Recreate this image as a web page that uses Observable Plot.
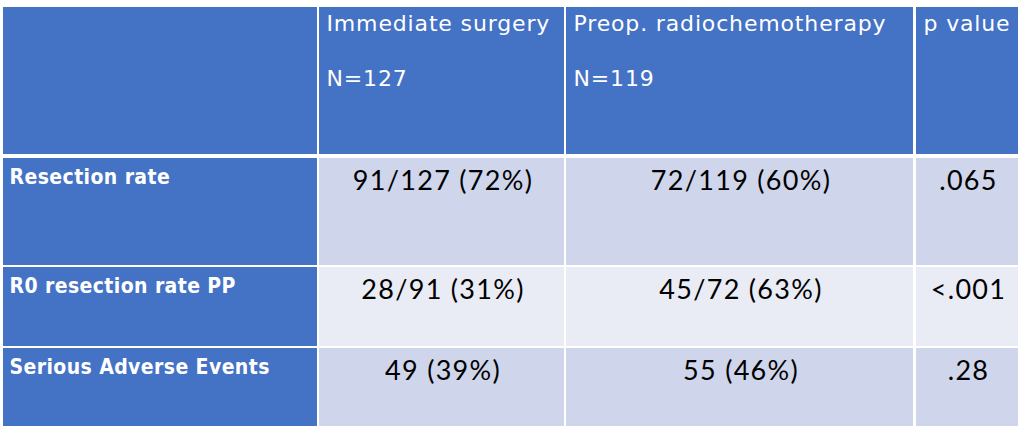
<!DOCTYPE html>
<html>
<head>
<meta charset="utf-8">
<script src="https://cdn.jsdelivr.net/npm/d3@7"></script>
<script src="https://cdn.jsdelivr.net/npm/@observablehq/plot@0.6"></script>
<style>
  html, body { margin: 0; padding: 0; background: #ffffff; }
  #chart svg { display: block; }
  #chart g[font-family="DejaVu Sans"] text { letter-spacing: 0.85px; }
  #chart g[font-family="DejaVu Sans Condensed"] text { letter-spacing: 0.4px; }
  #chart g[font-family="Lato"] text { letter-spacing: 1.3px; }
</style>
</head>
<body>
<div id="chart"></div>
<script>
// ---- data ----
const headers = ["Immediate surgery", "Preop. radiochemotherapy", "p value"];
const headerN = ["N=127", "N=119", ""];
const rowLabels = ["Resection rate", "R0 resection rate PP", "Serious Adverse Events"];
const surgery = ["91/127 (72%)", "28/91 (31%)", "49 (39%)"];
const radiochemo = ["72/119 (60%)", "45/72 (63%)", "55 (46%)"];
const pValues = [".065", "<.001", ".28"];

// ---- layout (pixel grid of the table) ----
const W = 1023, H = 430;
const colX1 = [3, 319, 566, 916];
const colX2 = [317, 564, 913, 1018];
const rowY1 = [7, 158, 267, 348];
const rowY2 = [154, 265, 346, 426];
const headerBlue = "#4472C4";
const bandFill = ["#CFD5EA", "#E9EBF5", "#CFD5EA"];

// cells table built from the arrays
const cells = [];
for (let r = 0; r < 4; r++) {
  for (let c = 0; c < 4; c++) {
    const fill = (r === 0 || c === 0) ? headerBlue : bandFill[r - 1];
    cells.push({r, c, x1: colX1[c], x2: colX2[c], y1: rowY1[r], y2: rowY2[r], fill});
  }
}

const headerText = headers.map((t, i) => ({text: t, x: colX1[i + 1] + 7, y: rowY1[0] + 23}));
const headerNText = headerN.map((t, i) => ({text: t, x: colX1[i + 1] + 7, y: rowY1[0] + 78}));
const labelText = rowLabels.map((t, i) => ({text: t, x: colX1[0] + 6, y: rowY1[i + 1] + 25}));
const valueText = [];
[surgery, radiochemo, pValues].forEach((col, ci) => {
  col.forEach((t, ri) => {
    valueText.push({text: t, x: (colX1[ci + 1] + colX2[ci + 1]) / 2 + 1, y: rowY1[ri + 1] + 31});
  });
});

const chart = Plot.plot({
  width: W,
  height: H,
  margin: 0,
  x: {type: "linear", domain: [0, W], range: [0, W], axis: null},
  y: {type: "linear", domain: [0, H], range: [0, H], axis: null},
  style: {background: "#ffffff"},
  marks: [
    Plot.rect(cells, {x1: "x1", x2: "x2", y1: "y1", y2: "y2", fill: "fill"}),
    Plot.text(headerText, {x: "x", y: "y", text: "text", textAnchor: "start", lineAnchor: "bottom",
      fill: "white", fontFamily: "DejaVu Sans", fontSize: 22}),
    Plot.text(headerNText, {x: "x", y: "y", text: "text", textAnchor: "start", lineAnchor: "bottom",
      fill: "white", fontFamily: "DejaVu Sans", fontSize: 22}),
    Plot.text(labelText, {x: "x", y: "y", text: "text", textAnchor: "start", lineAnchor: "bottom",
      fill: "white", fontFamily: "DejaVu Sans Condensed", fontWeight: "bold", fontSize: 21}),
    Plot.text(valueText, {x: "x", y: "y", text: "text", textAnchor: "middle", lineAnchor: "bottom",
      fill: "black", fontFamily: "Lato", fontSize: 27})
  ]
});
document.getElementById("chart").appendChild(chart);
</script>
</body>
</html>
